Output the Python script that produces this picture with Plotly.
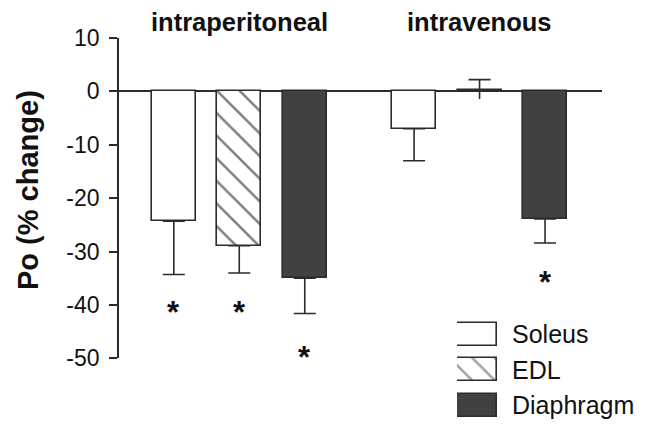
import plotly.graph_objects as go

# ---- data ----
groups = ["intraperitoneal", "intravenous"]
series = ["Soleus", "EDL", "Diaphragm"]
soleus = [-24.3, -7.0]
soleus_err = [10.0, 6.0]
edl = [-28.9, 0.3]
edl_err = [5.1, 1.9]
diaphragm = [-35.0, -23.9]
diaphragm_err = [6.6, 4.5]
# significance asterisks (y position of each star, None = no star)
soleus_star = [-40.6, None]
edl_star = [-40.6, None]
diaphragm_star = [-49.0, -35.1]
y_ticks = [10, 0, -10, -20, -30, -40, -50]
y_tick_labels = ["10", "0", "-10", "-20", "-30", "-40", "-50"]

values = [soleus, edl, diaphragm]
errors = [soleus_err, edl_err, diaphragm_err]
stars = [soleus_star, edl_star, diaphragm_star]

# ---- styling ----
FONT = "Liberation Sans, Arial, sans-serif"
EDGE = "#2b2b2b"
fills = ["white", "white", "#414141"]
patterns = ["", "\\", ""]
GROUP_STEP = 3.67
BAR_W = 0.674

OFF = 8                      # default page margin around the figure
W, H = 657 - 2 * OFF, 428 - 2 * OFF
L, R, T, B = 119 - OFF, W - (602 - OFF), 38 - OFF, 0
plot_w = W - L - R
plot_h = H - T - B


def py(p):  # page pixel row -> paper y
    return (H - B - (p - OFF)) / plot_h


def px_(p):  # page pixel column -> paper x
    return (p - OFF - L) / plot_w


fig = go.Figure()

for si, name in enumerate(series):
    xs = [g * GROUP_STEP + si for g in range(len(groups))]
    vals = values[si]
    errs = errors[si]
    up = [e if v >= 0 else 0 for v, e in zip(vals, errs)]
    down = [e if v < 0 else 0 for v, e in zip(vals, errs)]
    fig.add_trace(go.Bar(
        x=xs, y=vals, width=BAR_W, name=name, showlegend=False,
        marker=dict(color=fills[si], line=dict(color=EDGE, width=1.6),
                    pattern=dict(shape=patterns[si], fgcolor="#000000",
                                 bgcolor="white", size=16, solidity=0.16)),
        error_y=dict(type="data", symmetric=False, array=up, arrayminus=down,
                     color=EDGE, thickness=1.6, width=11),
        xaxis="x", yaxis="y",
    ))
    # stem below positive bars (no cap)
    pos_x = [x for x, v in zip(xs, vals) if v >= 0]
    pos_v = [v for v in vals if v >= 0]
    pos_e = [e * 0.9 for v, e in zip(vals, errs) if v >= 0]
    if pos_x:
        fig.add_trace(go.Scatter(
            x=pos_x, y=pos_v, mode="markers", marker=dict(size=1, color="rgba(0,0,0,0)"),
            error_y=dict(type="data", symmetric=False, array=[0] * len(pos_x),
                         arrayminus=pos_e, color=EDGE, thickness=1.6, width=0),
            showlegend=False, hoverinfo="skip", xaxis="x", yaxis="y"))

# asterisks
annotations = []
for si in range(len(series)):
    for g in range(len(groups)):
        sy = stars[si][g]
        if sy is not None:
            annotations.append(dict(
                x=g * GROUP_STEP + si, y=sy, xref="x", yref="y", text="<b>*</b>",
                showarrow=False, yshift=-4,
                font=dict(family=FONT, size=31, color="#111111")))

# group titles
for g, gname in enumerate(groups):
    annotations.append(dict(
        x=g * GROUP_STEP + 1, y=py(22), xref="x", yref="paper", text=f"<b>{gname}</b>",
        showarrow=False, xanchor="center", yanchor="middle",
        font=dict(family=FONT, size=25.5, color="#111111")))

# y-axis title
annotations.append(dict(
    x=px_(28), y=py(190), xref="paper", yref="paper", text="<b>Po (% change)</b>",
    textangle=-90, showarrow=False, xanchor="center", yanchor="middle",
    font=dict(family=FONT, size=29, color="#111111")))

# legend drawn as a small horizontal bar chart
LEG_TOP, LEG_BOT, LEG_FIRST, LEG_STEP = 320, 428 - OFF, 334, 35.8
fig.add_trace(go.Bar(
    y=series, x=[1] * len(series), orientation="h", width=23 / LEG_STEP, showlegend=False,
    marker=dict(color=fills, line=dict(color=EDGE, width=1.6),
                pattern=dict(shape=patterns, fgcolor="#000000", bgcolor="white",
                             size=16, solidity=0.16)),
    hoverinfo="skip", xaxis="x2", yaxis="y2"))

fig.update_layout(
    width=W, height=H,
    margin=dict(l=L, r=R, t=T, b=B, autoexpand=False),
    paper_bgcolor="white", plot_bgcolor="white",
    font=dict(family=FONT, color="#111111"),
    annotations=annotations,
    xaxis=dict(range=[-0.837, 6.54], domain=[0, 1], visible=False, anchor="y",
               automargin=False),
    yaxis=dict(range=[-50, 10], domain=[py(358.4), 1], tickvals=y_ticks,
               ticktext=y_tick_labels, automargin=False,
               ticks="outside", ticklen=8, tickwidth=1.6, tickcolor=EDGE,
               ticklabelstandoff=5,
               showline=True, linecolor=EDGE, linewidth=1.6, showgrid=False,
               zeroline=True, zerolinecolor=EDGE, zerolinewidth=1.6,
               tickfont=dict(family=FONT, size=23, color="#111111"),
               anchor="x"),
    xaxis2=dict(domain=[px_(457), px_(497)], range=[0, 1], visible=False, anchor="y2",
                automargin=False),
    yaxis2=dict(domain=[0, py(LEG_TOP)], anchor="x2", automargin=False,
                range=[(LEG_BOT - LEG_FIRST) / LEG_STEP, (LEG_TOP - LEG_FIRST) / LEG_STEP],
                side="right", showline=False, showgrid=False, zeroline=False,
                ticks="", ticklabelstandoff=14,
                tickfont=dict(family=FONT, size=25, color="#111111")),
    bargap=0,
)

fig.write_html("out.html")
